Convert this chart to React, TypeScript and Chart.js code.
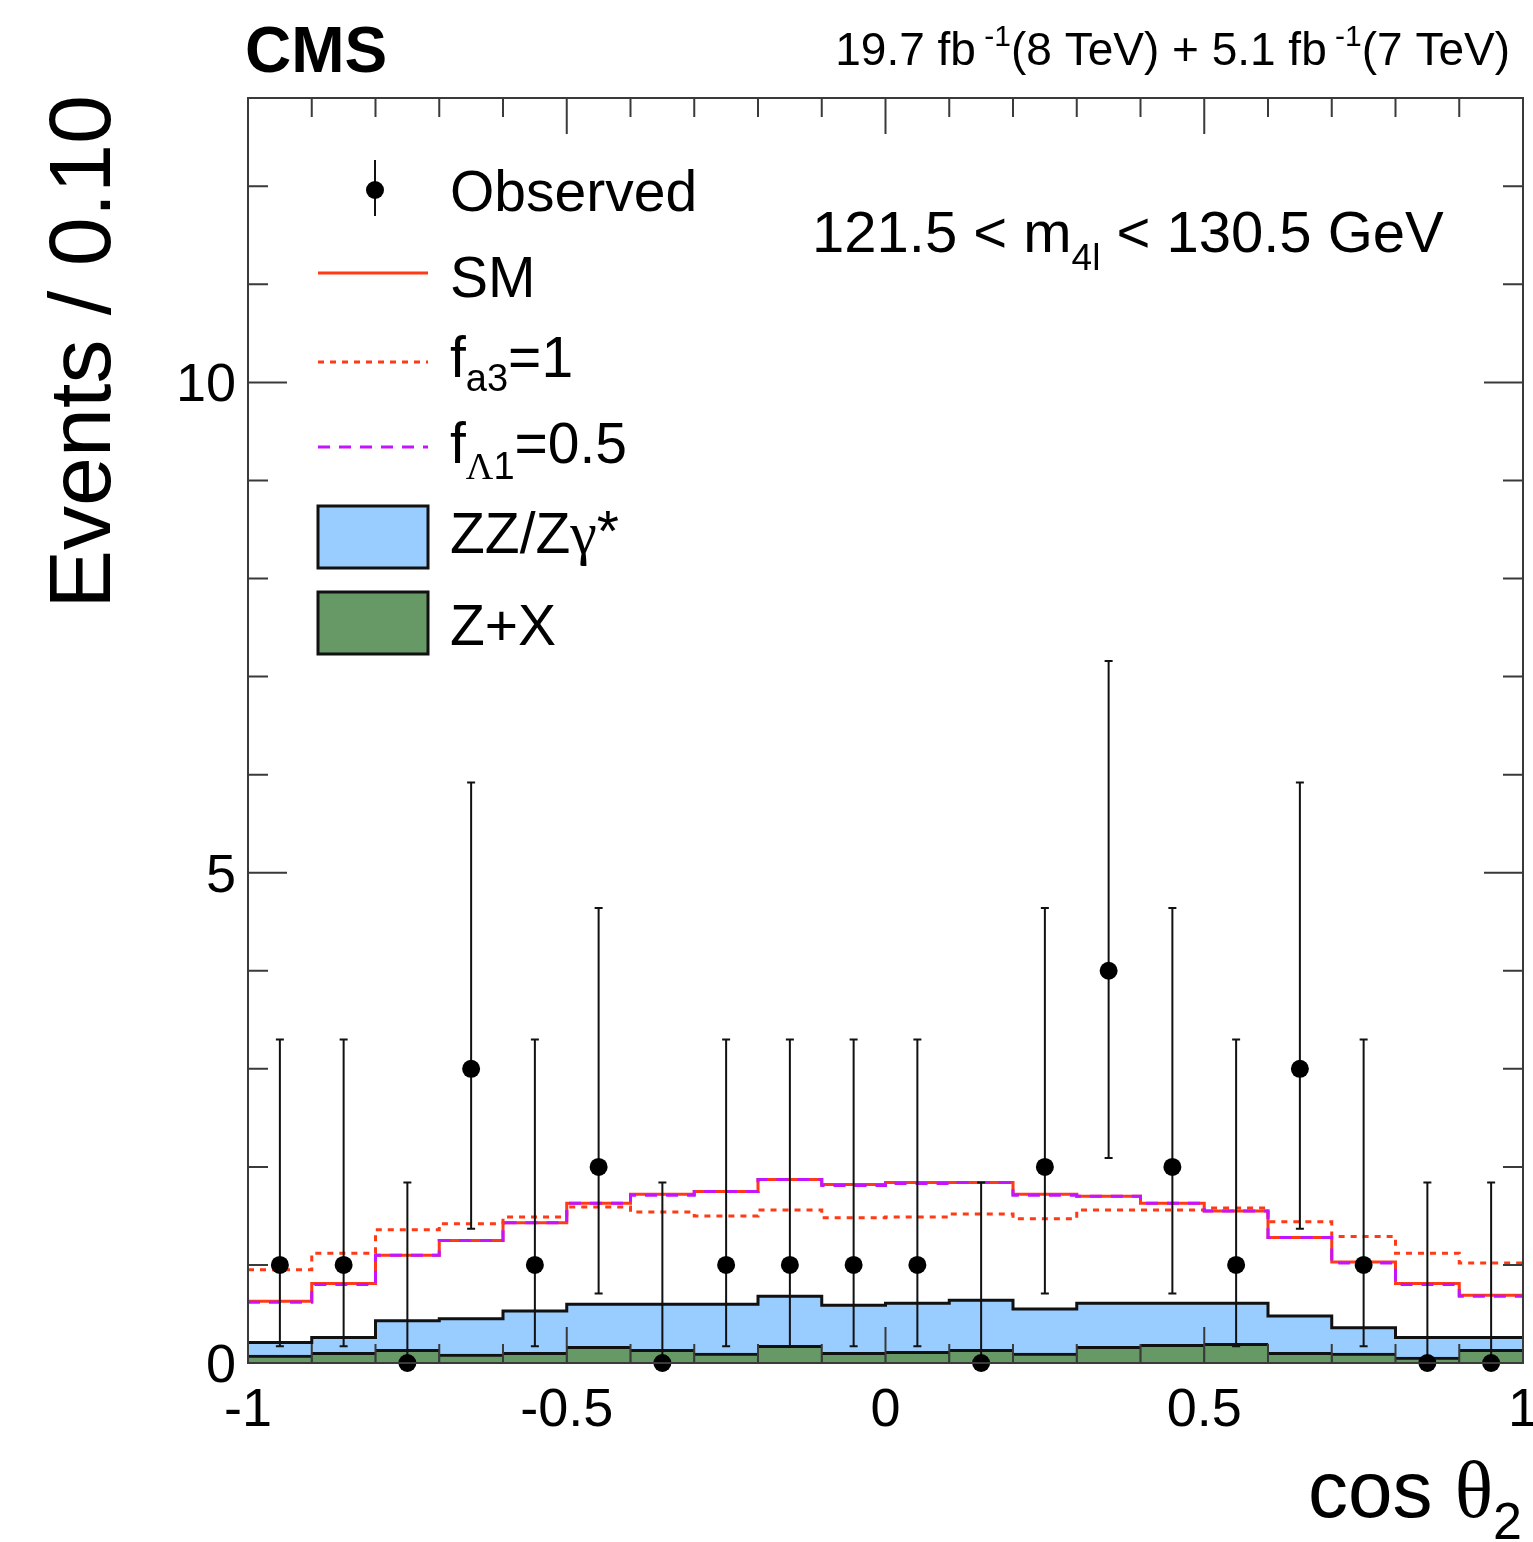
import React, { useEffect, useRef } from 'react';
import { Chart, registerables } from 'chart.js';

Chart.register(...registerables);

const FONT = '"Liberation Sans", Arial, Helvetica, sans-serif';
const SYMBOL_FONT = '"Liberation Serif", "DejaVu Serif", serif';

// ---------------- data ----------------
const binEdges = [-1.0, -0.9, -0.8, -0.7, -0.6, -0.5, -0.4, -0.3, -0.2, -0.1, 0.0, 0.1, 0.2, 0.3, 0.4, 0.5, 0.6, 0.7, 0.8, 0.9, 1.0];
const binCenters = [-0.95, -0.85, -0.75, -0.65, -0.55, -0.45, -0.35, -0.25, -0.15, -0.05, 0.05, 0.15, 0.25, 0.35, 0.45, 0.55, 0.65, 0.75, 0.85, 0.95];

const observed = [1, 1, 0, 3, 1, 2, 0, 1, 1, 1, 1, 0, 2, 4, 2, 1, 3, 1, 0, 0];
const observedErrLow = [0.83, 0.83, 0, 1.63, 0.83, 1.29, 0, 0.83, 0.83, 0.83, 0.83, 0, 1.29, 1.91, 1.29, 0.83, 1.63, 0.83, 0, 0];
const observedErrHigh = [2.3, 2.3, 1.84, 2.92, 2.3, 2.64, 1.84, 2.3, 2.3, 2.3, 2.3, 1.84, 2.64, 3.16, 2.64, 2.3, 2.92, 2.3, 1.84, 1.84];

const smExpected = [0.63, 0.81, 1.1, 1.25, 1.43, 1.63, 1.72, 1.75, 1.87, 1.82, 1.84, 1.84, 1.72, 1.7, 1.63, 1.55, 1.28, 1.03, 0.81, 0.69];
const fa3Expected = [0.95, 1.12, 1.36, 1.42, 1.49, 1.59, 1.54, 1.5, 1.56, 1.48, 1.49, 1.52, 1.47, 1.56, 1.56, 1.58, 1.44, 1.29, 1.12, 1.02];
const fL1Expected = [0.62, 0.8, 1.1, 1.25, 1.43, 1.63, 1.71, 1.75, 1.87, 1.81, 1.83, 1.84, 1.71, 1.7, 1.63, 1.55, 1.28, 1.02, 0.8, 0.68];
const zzBackground = [0.13, 0.15, 0.29, 0.36, 0.42, 0.43, 0.46, 0.5, 0.5, 0.48, 0.49, 0.5, 0.45, 0.44, 0.42, 0.41, 0.37, 0.26, 0.2, 0.12];
const zxBackground = [0.08, 0.11, 0.14, 0.09, 0.11, 0.17, 0.14, 0.1, 0.18, 0.11, 0.12, 0.14, 0.1, 0.17, 0.19, 0.2, 0.11, 0.1, 0.06, 0.14];

const xTickValues = [-1, -0.5, 0, 0.5, 1];
const xTickLabels = ['-1', '-0.5', '0', '0.5', '1'];
const xMinorTicks = [-0.9, -0.8, -0.7, -0.6, -0.4, -0.3, -0.2, -0.1, 0.1, 0.2, 0.3, 0.4, 0.6, 0.7, 0.8, 0.9];
const yTickValues = [0, 5, 10];
const yTickLabels = ['0', '5', '10'];
const yMinorTicks = [1, 2, 3, 4, 6, 7, 8, 9, 11, 12];

// ---------------- styles ----------------
const RED = '#ff3a14';
const MAGENTA = '#c414ff';
const BLUE = '#99ccff';
const GREEN = '#669966';

// bin i value is held from edge i to edge i+1 (last edge repeats the last bin)
const stepData = (vals: number[]) =>
  binEdges.map((x, i) => ({ x, y: vals[Math.min(i, vals.length - 1)] }));

type Part = { text: string; size: number; dy?: number; bold?: boolean; family?: string };

function fontOf(p: Part) {
  return `${p.bold ? 'bold ' : ''}${p.size}px ${p.family || FONT}`;
}

function drawParts(ctx: CanvasRenderingContext2D, parts: Part[], x: number, y: number, align: 'left' | 'right') {
  const widths: number[] = [];
  let total = 0;
  parts.forEach((p) => {
    ctx.font = fontOf(p);
    const w = ctx.measureText(p.text).width;
    widths.push(w);
    total += w;
  });
  let cx = align === 'right' ? x - total : x;
  ctx.textAlign = 'left';
  ctx.textBaseline = 'alphabetic';
  parts.forEach((p, i) => {
    ctx.font = fontOf(p);
    ctx.fillText(p.text, cx, y + (p.dy || 0));
    cx += widths[i];
  });
}

const OBS_INDEX = 5;

const decorPlugin = {
  id: 'decor',
  beforeDatasetDraw(chart: any, args: any) {
    if (args.index !== OBS_INDEX) return;
    const ctx: CanvasRenderingContext2D = chart.ctx;
    const xs = chart.scales.x;
    const ys = chart.scales.y;
    ctx.save();
    ctx.strokeStyle = '#111';
    ctx.lineWidth = 2;
    binCenters.forEach((c, i) => {
      const px = xs.getPixelForValue(c);
      const lo = ys.getPixelForValue(observed[i] - observedErrLow[i]);
      const hi = ys.getPixelForValue(observed[i] + observedErrHigh[i]);
      ctx.beginPath();
      ctx.moveTo(px, lo);
      ctx.lineTo(px, hi);
      ctx.moveTo(px - 4, hi);
      ctx.lineTo(px + 4, hi);
      if (observedErrLow[i] > 0) {
        ctx.moveTo(px - 4, lo);
        ctx.lineTo(px + 4, lo);
      }
      ctx.stroke();
    });
    ctx.restore();
  },
  afterDraw(chart: any) {
    const ctx: CanvasRenderingContext2D = chart.ctx;
    const xs = chart.scales.x;
    const ys = chart.scales.y;
    const { left, right, top, bottom } = chart.chartArea;
    ctx.save();

    // frame
    ctx.strokeStyle = '#3a3a3a';
    ctx.lineWidth = 2;
    ctx.strokeRect(left, top, right - left, bottom - top);

    // ticks
    ctx.beginPath();
    const xTick = (v: number, len: number) => {
      const px = xs.getPixelForValue(v);
      ctx.moveTo(px, bottom);
      ctx.lineTo(px, bottom - len);
      ctx.moveTo(px, top);
      ctx.lineTo(px, top + len);
    };
    const yTick = (v: number, len: number) => {
      const py = ys.getPixelForValue(v);
      ctx.moveTo(left, py);
      ctx.lineTo(left + len, py);
      ctx.moveTo(right, py);
      ctx.lineTo(right - len, py);
    };
    xMinorTicks.forEach((v) => xTick(v, 19));
    xTickValues.forEach((v) => xTick(v, 36));
    yMinorTicks.forEach((v) => yTick(v, 20));
    yTickValues.forEach((v) => yTick(v, 39));
    ctx.stroke();

    // tick labels
    ctx.fillStyle = '#000';
    ctx.font = `54px ${FONT}`;
    ctx.textBaseline = 'alphabetic';
    ctx.textAlign = 'center';
    xTickValues.forEach((v, i) => {
      ctx.fillText(xTickLabels[i], xs.getPixelForValue(v), 1426);
    });
    ctx.textAlign = 'right';
    yTickValues.forEach((v, i) => {
      ctx.fillText(yTickLabels[i], 236, ys.getPixelForValue(v) + 19);
    });

    // axis titles
    ctx.save();
    ctx.translate(110, 95);
    ctx.rotate(-Math.PI / 2);
    ctx.textAlign = 'right';
    ctx.font = `88px ${FONT}`;
    ctx.fillText('Events / 0.10', 0, 0);
    ctx.restore();

    drawParts(ctx, [
      { text: 'cos ', size: 80 },
      { text: 'θ', size: 80, family: SYMBOL_FONT },
      { text: '2', size: 52, dy: 22 },
    ], 1522, 1517, 'right');

    // header
    drawParts(ctx, [{ text: 'CMS', size: 64, bold: true }], 245, 72, 'left');
    drawParts(ctx, [
      { text: '19.7 fb', size: 46 },
      { text: ' -1', size: 30, dy: -19 },
      { text: '(8 TeV) + 5.1 fb', size: 46 },
      { text: ' -1', size: 30, dy: -19 },
      { text: '(7 TeV)', size: 46 },
    ], 1510, 65, 'right');

    drawParts(ctx, [
      { text: '121.5 < m', size: 58 },
      { text: '4l', size: 37, dy: 18 },
      { text: ' < 130.5 GeV', size: 58 },
    ], 812, 252, 'left');

    // legend
    const lx0 = 318;
    const lx1 = 428;
    const tx = 450;
    // observed
    ctx.strokeStyle = '#111';
    ctx.lineWidth = 2;
    ctx.beginPath();
    ctx.moveTo(375, 160);
    ctx.lineTo(375, 216);
    ctx.stroke();
    ctx.fillStyle = '#000';
    ctx.beginPath();
    ctx.arc(375, 190, 9, 0, Math.PI * 2);
    ctx.fill();
    drawParts(ctx, [{ text: 'Observed', size: 57 }], tx, 211, 'left');

    // SM
    ctx.lineWidth = 3;
    ctx.strokeStyle = RED;
    ctx.setLineDash([]);
    ctx.beginPath();
    ctx.moveTo(lx0, 273);
    ctx.lineTo(lx1, 273);
    ctx.stroke();
    drawParts(ctx, [{ text: 'SM', size: 57 }], tx, 297, 'left');

    // fa3
    ctx.setLineDash([6, 6]);
    ctx.beginPath();
    ctx.moveTo(lx0, 362);
    ctx.lineTo(lx1, 362);
    ctx.stroke();
    drawParts(ctx, [
      { text: 'f', size: 57 },
      { text: 'a3', size: 38, dy: 14 },
      { text: '=1', size: 57 },
    ], tx, 377, 'left');

    // fL1
    ctx.strokeStyle = MAGENTA;
    ctx.setLineDash([12, 9]);
    ctx.beginPath();
    ctx.moveTo(lx0, 447);
    ctx.lineTo(lx1, 447);
    ctx.stroke();
    ctx.setLineDash([]);
    drawParts(ctx, [
      { text: 'f', size: 57 },
      { text: 'Λ', size: 38, dy: 16, family: SYMBOL_FONT },
      { text: '1', size: 38, dy: 16 },
      { text: '=0.5', size: 57 },
    ], tx, 463, 'left');

    // boxes
    ctx.lineWidth = 3;
    ctx.strokeStyle = '#111';
    ctx.fillStyle = BLUE;
    ctx.fillRect(lx0, 506, lx1 - lx0, 62);
    ctx.strokeRect(lx0, 506, lx1 - lx0, 62);
    ctx.fillStyle = GREEN;
    ctx.fillRect(lx0, 592, lx1 - lx0, 62);
    ctx.strokeRect(lx0, 592, lx1 - lx0, 62);
    ctx.fillStyle = '#000';
    drawParts(ctx, [
      { text: 'ZZ/Z', size: 57 },
      { text: 'γ', size: 60, family: SYMBOL_FONT },
      { text: '*', size: 57, dy: -2 },
    ], tx, 553, 'left');
    drawParts(ctx, [{ text: 'Z+X', size: 57 }], tx, 645, 'left');

    ctx.restore();
  },
};

export default function App() {
  const canvasRef = useRef<HTMLCanvasElement | null>(null);

  useEffect(() => {
    if (!canvasRef.current) return;
    const stackTop = zzBackground.map((v, i) => v + zxBackground[i]);
    const chart = new Chart(canvasRef.current, {
      type: 'line',
      data: {
        datasets: [
          {
            type: 'line',
            label: 'ZZ/Zγ*',
            data: stepData(stackTop),
            stepped: 'before',
            borderColor: '#111',
            borderWidth: 3,
            backgroundColor: BLUE,
            fill: 'origin',
            pointRadius: 0,
            order: 7,
          },
          {
            type: 'bar',
            label: 'Z+X',
            data: binCenters.map((x, i) => ({ x, y: zxBackground[i] })),
            backgroundColor: GREEN,
            borderColor: '#111',
            borderWidth: { top: 3, left: 1, right: 1, bottom: 0 },
            borderSkipped: false,
            barPercentage: 1,
            categoryPercentage: 1,
            order: 6,
          },
          {
            type: 'line',
            label: 'fa3=1',
            data: stepData(fa3Expected),
            stepped: 'before',
            borderColor: RED,
            borderWidth: 3,
            borderDash: [6, 6],
            fill: false,
            pointRadius: 0,
            order: 5,
          },
          {
            type: 'line',
            label: 'SM',
            data: stepData(smExpected),
            stepped: 'before',
            borderColor: RED,
            borderWidth: 3,
            fill: false,
            pointRadius: 0,
            order: 4,
          },
          {
            type: 'line',
            label: 'fL1=0.5',
            data: stepData(fL1Expected),
            stepped: 'before',
            borderColor: MAGENTA,
            borderWidth: 3,
            borderDash: [12, 9],
            fill: false,
            pointRadius: 0,
            order: 3,
          },
          {
            type: 'line',
            label: 'Observed',
            data: binCenters.map((x, i) => ({ x, y: observed[i] })),
            showLine: false,
            pointRadius: 9,
            pointHoverRadius: 9,
            pointBackgroundColor: '#000',
            pointBorderColor: '#000',
            pointBorderWidth: 0,
            clip: false,
            order: 1,
          },
        ],
      } as any,
      options: {
        animation: false,
        responsive: false,
        events: [],
        layout: { padding: { top: 98, right: 10, left: 0, bottom: 0 } },
        plugins: {
          legend: { display: false },
          tooltip: { enabled: false },
        },
        scales: {
          x: {
            type: 'linear',
            min: -1,
            max: 1,
            offset: false,
            grid: { display: false },
            border: { display: false },
            ticks: { display: false, stepSize: 0.5 },
            afterFit: (s: any) => { s.height = 179; },
          },
          y: {
            type: 'linear',
            min: 0,
            max: 12.9,
            grid: { display: false },
            border: { display: false },
            ticks: { display: false },
            afterFit: (s: any) => { s.width = 248; },
          },
        },
      } as any,
      plugins: [decorPlugin],
    });
    return () => chart.destroy();
  }, []);

  return (
    <div style={{ position: 'absolute', left: 0, top: 0, width: 1533, height: 1542, background: '#fff' }}>
      <canvas ref={canvasRef} width={1533} height={1542} style={{ display: 'block' }} />
    </div>
  );
}
